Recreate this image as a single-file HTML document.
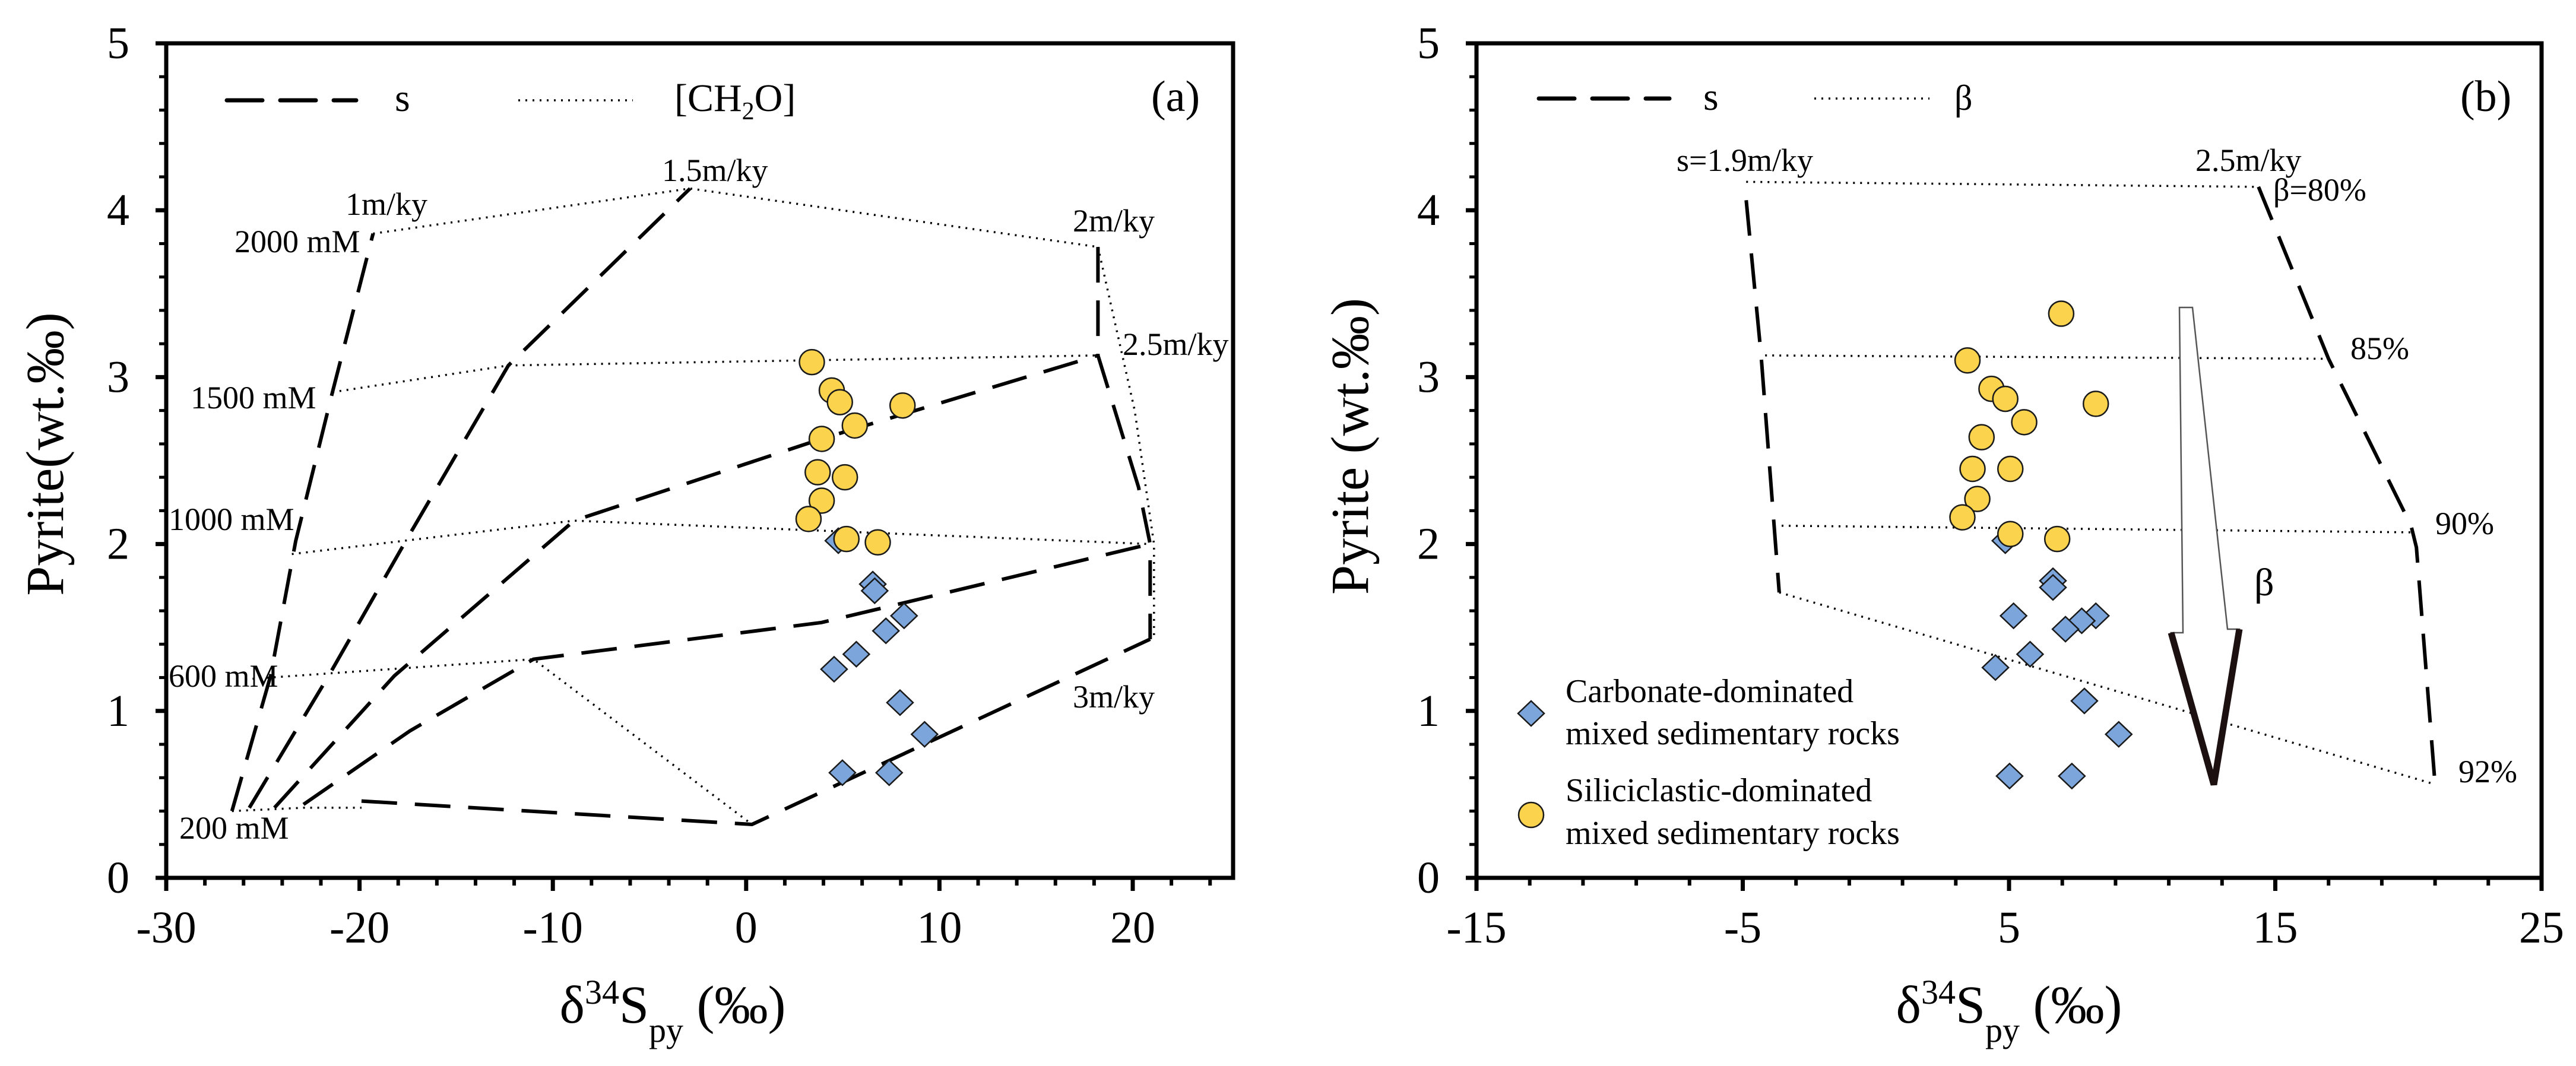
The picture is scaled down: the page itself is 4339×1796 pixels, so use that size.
<!DOCTYPE html>
<html><head><meta charset="utf-8">
<style>
html,body{margin:0;padding:0;background:#fff;}
svg{display:block;font-family:"Liberation Serif","Times New Roman","DejaVu Serif",serif;}
text{font-family:"Liberation Serif","Times New Roman","DejaVu Serif",serif;}
</style></head>
<body>
<svg id="fig" width="4339" height="1796" viewBox="0 0 4339 1796" xmlns="http://www.w3.org/2000/svg">
<rect x="0" y="0" width="4339" height="1796" fill="#fff"/>
<g id="pa"></g>
<g id="pb"></g>
</svg>
<script>
// ---------- data: panel a ----------
const aCircleX = [3.40,4.43,4.85,8.09,5.62,3.91,3.70,5.11,3.91,3.23,5.19,6.81];
const aCircleY = [3.09,2.92,2.85,2.83,2.71,2.63,2.43,2.40,2.26,2.15,2.03,2.01];
const aDiamondX = [4.77,6.55,6.65,8.17,7.23,5.70,4.55,7.96,9.23,4.98,7.40];
const aDiamondY = [2.02,1.76,1.72,1.57,1.48,1.34,1.25,1.05,0.86,0.63,0.63];
const aTicksX = [-30,-20,-10,0,10,20];
const aTicksY = [0,1,2,3,4,5];
const aS1X = [-26.6,-24.6,-23.3,-21.4,-19.3];
const aS1Y = [0.40,1.21,2.02,2.91,3.86];
const aS2X = [-25.7,-21.6,-17.4,-12.3,-2.9];
const aS2Y = [0.42,1.21,2.06,3.07,4.13];
const aS3X = [-24.4,-18.2,-8.9,3.9,18.2];
const aS3Y = [0.42,1.21,2.14,2.63,3.13];
const aS4X = [-22.9,-17.4,-11.0,3.9,20.9];
const aS4Y = [0.44,0.88,1.31,1.53,2.0];
const aS5X = [-19.9,0.3,20.9];
const aS5Y = [0.46,0.32,1.43];
const aSRX = [18.2,18.2,20.3,20.9,20.9];
const aSRY = [3.78,3.13,2.34,2.0,1.43];
const aC2000X = [-19.3,-2.9,18.2];
const aC2000Y = [3.86,4.13,3.78];
const aC1500X = [-21.4,-12.3,18.2];
const aC1500Y = [2.91,3.07,3.13];
const aC1000X = [-23.5,-8.9,20.9];
const aC1000Y = [1.94,2.14,2.0];
const aC600X = [-25.9,-11.0,0.3];
const aC600Y = [1.19,1.31,0.32];
const aC200X = [-26.6,-22.9,-19.9];
const aC200Y = [0.40,0.42,0.42];
const aCRX = [18.2,20.1,21.1,21.1];
const aCRY = [3.78,2.8,2.0,1.43];
// ---------- data: panel b ----------
const bCircleX = [6.96,3.44,4.34,4.86,8.26,5.57,3.97,3.63,5.05,3.81,3.25,5.05,6.81];
const bCircleY = [3.38,3.10,2.93,2.87,2.84,2.73,2.64,2.45,2.45,2.27,2.16,2.06,2.03];
const bDiamondX = [4.86,6.65,6.65,5.17,8.26,7.73,7.12,5.79,4.49,7.83,9.12,5.02,7.36];
const bDiamondY = [2.02,1.78,1.74,1.57,1.57,1.54,1.49,1.34,1.26,1.06,0.86,0.61,0.61];
const bTicksX = [-15,-5,5,15,25];
const bB80X = [-4.87,14.37]; const bB80Y = [4.17,4.14];
const bB85X = [-4.16,17.0];  const bB85Y = [3.13,3.11];
const bB90X = [-3.54,20.1];  const bB90Y = [2.11,2.07];
const bB92X = [-3.63,21.0];  const bB92Y = [1.71,0.56];
const bSLX = [-4.87,-4.31,-3.63]; const bSLY = [4.06,3.13,1.71];
const bSRX = [14.37,17.0,20.1,20.3,21.0]; const bSRY = [4.14,3.11,2.11,1.98,0.56];

// ---------- axes ----------
const Y0 = 1479, YS = 281.2;
const ya = v => Y0 - v*YS;
const xa = v => 280 + (v+30)*32.56;
const xb = v => 2487 + (v+15)*44.85;
const NS = "http://www.w3.org/2000/svg";
const FF = '"Liberation Serif","Times New Roman","DejaVu Serif",serif';
function mk(parent, tag, attrs){const e=document.createElementNS(NS,tag);for(const k in attrs)e.setAttribute(k,attrs[k]);parent.appendChild(e);return e;}
function txt(parent, x, y, s, size, anchor){const t=mk(parent,'text',{x:x,y:y,'font-size':size,'text-anchor':anchor||'start',fill:'#000','font-family':FF});t.textContent=s;return t;}
function poly(parent, xs, ys, fx, dash, w){
  const pts = xs.map((v,i)=>fx(v).toFixed(1)+','+ya(ys[i]).toFixed(1)).join(' ');
  return mk(parent,'polyline',{points:pts,fill:'none',stroke:'#000','stroke-width':w,'stroke-dasharray':dash});
}
function frame(g, left, right, fx, ticksX, minorFrom, minorTo){
  const f = mk(g,'rect',{x:left,y:ya(5),width:right-left,height:ya(0)-ya(5),fill:'none',stroke:'#000','stroke-width':7});
  
  
  for(let i=0; i<=25; i++){
    const v = i*0.2;
    const major = i%5===0;
    const t = mk(g,'line',{x1:left,x2:left-(major?18:12),y1:ya(v),y2:ya(v),stroke:'#000','stroke-width':major?7:5});
    
    
  }
  aTicksY.forEach(v=>{
    const t = txt(g,left-62,ya(v)+25,String(v),76,'end');
    
    
  });
  for(let v=minorFrom; v<=minorTo+0.001; v+=2){
    const major = ticksX.some(m=>Math.abs(m-v)<0.01);
    const t = mk(g,'line',{x1:fx(v),x2:fx(v),y1:ya(0),y2:ya(0)+(major?22:13),stroke:'#000','stroke-width':major?7:6});
    
    
  }
  ticksX.forEach(v=>{
    const t = txt(g,fx(v),1588,String(v),76,'middle');
    
    
  });
}
function circles(g, xs, ys, fx){
  xs.forEach((v,i)=>{
    const c = mk(g,'circle',{cx:fx(v),cy:ya(ys[i]),r:21,fill:'#FCD34D',stroke:'#1a1a1a','stroke-width':2.5});
    
    
  });
}
function diamond(g,cx,cy){
  return mk(g,'polygon',{points:`${cx},${cy-21} ${cx+22},${cy} ${cx},${cy+21} ${cx-22},${cy}`,fill:'#7BA5DB',stroke:'#1a1a1a','stroke-width':2.5});
}
function diamonds(g, xs, ys, fx){
  xs.forEach((v,i)=>{
    const d = diamond(g,fx(v),ya(ys[i]));
    
    
  });
}
const DASH = '60 30', DOT = '3 9';

// ---------- panel a ----------
const pa = document.getElementById('pa');
[[aS1X,aS1Y],[aS2X,aS2Y],[aS3X,aS3Y],[aS4X,aS4Y],[aS5X,aS5Y],[aSRX,aSRY]].forEach(p=>{
  const l = poly(pa,p[0],p[1],xa,DASH,6);
  
  
});
[[aC2000X,aC2000Y],[aC1500X,aC1500Y],[aC1000X,aC1000Y],[aC600X,aC600Y],[aC200X,aC200Y],[aCRX,aCRY]].forEach(p=>{
  const l = poly(pa,p[0],p[1],xa,DOT,3.5);
  
  
});
frame(pa,280,2077,xa,aTicksX,-30,24);
diamonds(pa,aDiamondX,aDiamondY,xa);
circles(pa,aCircleX,aCircleY,xa);
[['1m/ky',582,362],['1.5m/ky',1115,305],['2m/ky',1807,390],['2.5m/ky',1891,598],['3m/ky',1807,1192],
 ['2000 mM',395,425],['1500 mM',321,688],['1000 mM',284,893],['600 mM',284,1157],['200 mM',302,1413]].forEach(a=>{
  const t = txt(pa,a[1],a[2],a[0],54);
  
  
});
const la = mk(pa,'g',{});


mk(la,'line',{x1:382,x2:600,y1:169,y2:169,stroke:'#000','stroke-width':7,'stroke-dasharray':DASH,'stroke-linecap':'round'});
txt(la,665,187,'s',66);
mk(la,'line',{x1:873,x2:1066,y1:169,y2:169,stroke:'#000','stroke-width':3.5,'stroke-dasharray':DOT});
const ch = txt(la,1136,187,'[CH',66);
const sub = mk(ch,'tspan',{'font-size':42,dy:14}); sub.textContent='2';
const o = mk(ch,'tspan',{dy:-14}); o.textContent='O]';
const pla = txt(pa,1939,187,'(a)',74);



// ---------- panel b ----------
const pb = document.getElementById('pb');
[[bB80X,bB80Y],[bB85X,bB85Y],[bB90X,bB90Y],[bB92X,bB92Y]].forEach(p=>{
  const l = poly(pb,p[0],p[1],xb,DOT,3.5);
  
  
});
[[bSLX,bSLY],[bSRX,bSRY]].forEach(p=>{
  const l = poly(pb,p[0],p[1],xb,DASH,6);
  
  
});
frame(pb,2487,4281,xb,bTicksX,-15,25);
const arr = mk(pb,'g',{});


mk(arr,'polygon',{points:'3671,518 3693,518 3752,1060 3772,1060 3729,1322 3657,1066 3677,1066',fill:'#fff',stroke:'#555','stroke-width':2.5});
mk(arr,'polyline',{points:'3657,1066 3729,1322 3772,1060',fill:'none',stroke:'#1c1010','stroke-width':11});
const bl = txt(pb,3797,1003,'β',66);


diamonds(pb,bDiamondX,bDiamondY,xb);
circles(pb,bCircleX,bCircleY,xb);
[['s=1.9m/ky',2824,288],['2.5m/ky',3698,288],['β=80%',3829,338],['85%',3959,605],['90%',4102,900],['92%',4141,1318]].forEach(a=>{
  const t = txt(pb,a[1],a[2],a[0],54);
  
  
});
const lb = mk(pb,'g',{});


mk(lb,'line',{x1:2592,x2:2812,y1:166,y2:166,stroke:'#000','stroke-width':7,'stroke-dasharray':DASH,'stroke-linecap':'round'});
txt(lb,2869,185,'s',66);
mk(lb,'line',{x1:3056,x2:3250,y1:166,y2:166,stroke:'#000','stroke-width':3.5,'stroke-dasharray':DOT});
txt(lb,3292,185,'β',60);
const plb = txt(pb,4144,187,'(b)',74);


const lb2 = mk(pb,'g',{});


diamond(lb2,2579,1202);
mk(lb2,'circle',{cx:2579,cy:1373,r:21,fill:'#FCD34D',stroke:'#1a1a1a','stroke-width':2.5});
txt(lb2,2637,1183,'Carbonate-dominated',56);
txt(lb2,2637,1254,'mixed sedimentary rocks',56);
txt(lb2,2637,1350,'Siliciclastic-dominated',56);
txt(lb2,2637,1422,'mixed sedimentary rocks',56);

function ytitle(g,x,y,s){
  const t = mk(g,'text',{x:0,y:0,'font-size':90,'text-anchor':'middle',transform:`translate(${x},${y}) rotate(-90)`,fill:'#000','font-family':FF});
  t.textContent=s;
  
  
}
ytitle(pa,106,765,'Pyrite(wt.‰)');
ytitle(pb,2304,752,'Pyrite (wt.‰)');
function xtitle(g,x){
  const t = mk(g,'text',{x:x,y:1723,'font-size':90,'text-anchor':'middle',fill:'#000','font-family':FF});
  
  
  const a=mk(t,'tspan',{}); a.textContent='δ';
  const b=mk(t,'tspan',{'font-size':58,dy:-32}); b.textContent='34';
  const c=mk(t,'tspan',{dy:32}); c.textContent='S';
  const d=mk(t,'tspan',{'font-size':58,dy:32}); d.textContent='py';
  const e=mk(t,'tspan',{dy:-32}); e.textContent=' (‰)';
}
xtitle(pa,1133);
xtitle(pb,3384);
</script>
</body></html>
